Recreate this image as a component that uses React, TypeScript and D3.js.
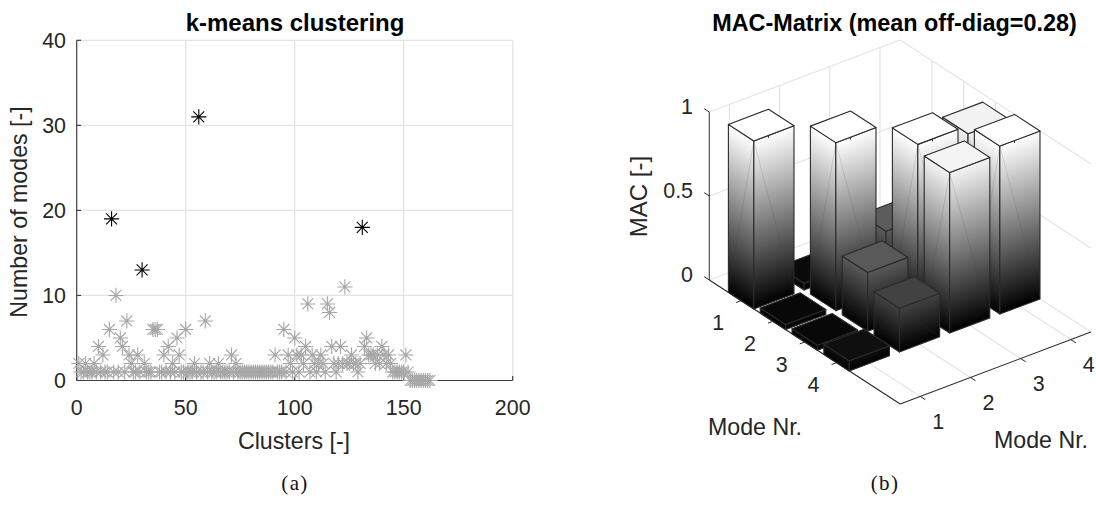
import React from "react";
import * as d3 from "d3";

// ---------- data: k-means clustering (index 1..162) ----------
const clusterSizes = [
  2,1,1,2,1,1,1,2,1,4, 1,3,1,1,6,19,1,10,1,5,
  4,1,7,3,2,1,1,3,1,13, 2,1,1,1,6,6,6,1,1,3,
  1,4,1,2,1,5,3,1,1,6, 1,1,1,2,1,31,1,1,7,1,
  2,1,1,1,2,1,1,1,1,1, 3,1,2,1,1,1,1,1,1,1,
  1,1,1,1,1,1,1,1,1,1, 3,1,1,1,6,1,3,2,1,5,
  3,1,3,2,4,9,1,3,2,1, 2,3,2,1,9,8,4,2,1,2,
  4,2,11,2,2,3,2,2,1,2, 18,4,5,3,3,3,2,3,2,4,
  3,2,3,2,1,1,1,1,1,1, 3,1,0,0,0,0,0,0,0,0,
  0,0,
];
const highlightedClusters = [16, 30, 56, 131];
const xTicks = [0, 50, 100, 150, 200];
const yTicks = [0, 10, 20, 30, 40];

// ---------- data: MAC matrix, rows are the right-hand axis, columns the left-hand axis ----------
const modeTicks = [1, 2, 3, 4];
const macTicks = [0, 0.5, 1];
const macRow1 = [1, 0.03, 0.03, 0.06];
const macRow2 = [0.04, 1, 0.35, 0.26];
const macRow3 = [0.1, 0.36, 1, 0.955];
const macRow4 = [0.03, 0.1, 0.95, 1];
const macMatrix = [macRow1, macRow2, macRow3, macRow4];

const FONT = "'Liberation Sans', Arial, sans-serif";
const TEXT = "#262626";
const GRID = "#e4e4e4";
const AXIS = "#404040";
const EDGE = "#2a2a2a";
const STAR_GRAY = "#a6a6a6";

const x = d3.scaleLinear().domain([0, 200]).range([76.7, 512.7]);
const y = d3.scaleLinear().domain([0, 40]).range([380.5, 40.3]);

function star(r: number) {
  const d = r * 0.72;
  return `M${-r},0L${r},0M0,${-r}L0,${r}M${-d},${-d}L${d},${d}M${-d},${d}L${d},${-d}`;
}

// ---------- 3D projection ----------
const uDomain = [0.6, 4.4];
const vDomain = [0, 6];
const uPx = d3.scaleLinear().domain(uDomain).range([0, 190.7]);
const uPy = d3.scaleLinear().domain(uDomain).range([0, -72]);
const vPx = d3.scaleLinear().domain(vDomain).range([0, 190.9]);
const vPy = d3.scaleLinear().domain(vDomain).range([0, 124]);
const zP = d3.scaleLinear().domain([0, 1]).range([0, -168]);
const ORIGIN = [709.3, 280];
type Pt = [number, number];
function P(u: number, v: number, z: number): Pt {
  return [ORIGIN[0] + uPx(u) + vPx(v), ORIGIN[1] + uPy(u) + vPy(v) + zP(z)];
}
const gray = (z: number) => d3.interpolateRgb("#000000", "#ffffff")(z);
const poly = (pts: Pt[]) => "M" + pts.map((p) => p.join(",")).join("L") + "Z";

function Line({ a, b, c, w }: { a: Pt; b: Pt; c: string; w: number }) {
  return <line x1={a[0]} y1={a[1]} x2={b[0]} y2={b[1]} stroke={c} strokeWidth={w} />;
}

function gradientEnd(base: Pt, along: Pt, h: number): Pt {
  const ex = along[0] - base[0];
  const ey = along[1] - base[1];
  const len = Math.hypot(ex, ey);
  const nx = ey / len;
  const ny = -ex / len;
  const proj = -h * ny;
  return [base[0] + nx * proj, base[1] + ny * proj];
}

const HALF = 0.4;
const bars = macMatrix
  .flatMap((row, i) => row.map((z, j) => ({ u: i + 1, v: j + 1, z })))
  .sort((a, b) => a.v - a.u - (b.v - b.u));

function Bar({ u, v, z }: { u: number; v: number; z: number }) {
  const u0 = u - HALF, u1 = u + HALF, v0 = v - HALF, v1 = v + HALF;
  const left0 = P(u0, v0, 0), front0 = P(u0, v1, 0), right0 = P(u1, v1, 0);
  const leftT = P(u0, v0, z), frontT = P(u0, v1, z), rightT = P(u1, v1, z), backT = P(u1, v0, z);
  const h = front0[1] - frontT[1];
  const gl = gradientEnd(left0, front0, h);
  const gr = gradientEnd(front0, right0, h);
  const idL = `gl-${u}-${v}`;
  const idR = `gr-${u}-${v}`;
  const tickAt = frontT[1] + ((backT[0] - frontT[0]) / (rightT[0] - frontT[0])) * (rightT[1] - frontT[1]);
  return (
    <g>
      <defs>
        <linearGradient id={idL} gradientUnits="userSpaceOnUse" x1={left0[0]} y1={left0[1]} x2={gl[0]} y2={gl[1]}>
          <stop offset="0" stopColor="#000" />
          <stop offset="1" stopColor={gray(z)} />
        </linearGradient>
        <linearGradient id={idR} gradientUnits="userSpaceOnUse" x1={front0[0]} y1={front0[1]} x2={gr[0]} y2={gr[1]}>
          <stop offset="0" stopColor="#000" />
          <stop offset="1" stopColor={gray(z)} />
        </linearGradient>
      </defs>
      <path d={poly([left0, front0, frontT, leftT])} fill={`url(#${idL})`} stroke={EDGE} strokeWidth={1.1} strokeLinejoin="round" />
      <path d={poly([front0, right0, rightT, frontT])} fill={`url(#${idR})`} stroke={EDGE} strokeWidth={1.1} strokeLinejoin="round" />
      <path d={poly([leftT, frontT, rightT, backT])} fill={gray(z)} stroke={EDGE} strokeWidth={1.1} strokeLinejoin="round" />
      {z > 0.2 && <Line a={frontT} b={left0} c="rgba(70,70,70,0.3)" w={0.5} />}
      {z > 0.2 && <Line a={frontT} b={right0} c="rgba(70,70,70,0.3)" w={0.5} />}
      {z > 0.99 && <Line a={[backT[0], tickAt]} b={[backT[0], tickAt + 2.4]} c={EDGE} w={1} />}
    </g>
  );
}

const tickStyle = { fontFamily: FONT, fontSize: 21.4, fill: TEXT } as const;
const labelStyle = { fontFamily: FONT, fontSize: 23.2, fill: TEXT } as const;
const titleStyle = { fontFamily: FONT, fontSize: 23.4, fontWeight: "bold", fill: "#000" } as const;
const captionStyle = { fontFamily: "'Liberation Serif', serif", fontSize: 21, letterSpacing: 1.4, fill: "#111" } as const;

export default function App() {
  const uMin = uDomain[0], uMax = uDomain[1], vMin = vDomain[0], vMax = vDomain[1];
  return (
    <svg width={1096} height={510} style={{ position: "absolute", left: 0, top: 0, background: "#fff" }}>
      {/* ---------- left panel ---------- */}
      <g stroke={GRID} strokeWidth={1.3}>
        {xTicks.slice(1).map((t) => (
          <line key={t} x1={x(t)} x2={x(t)} y1={y(0)} y2={y(40)} />
        ))}
        {yTicks.slice(1).map((t) => (
          <line key={t} x1={x(0)} x2={x(200)} y1={y(t)} y2={y(t)} />
        ))}
      </g>
      <g stroke={AXIS} strokeWidth={1.2}>
        <line x1={x(0)} x2={x(0)} y1={y(0)} y2={y(40)} />
        <line x1={x(0)} x2={x(200)} y1={y(0)} y2={y(0)} />
        {xTicks.map((t) => (
          <line key={t} x1={x(t)} x2={x(t)} y1={y(0)} y2={y(0) - 4.4} />
        ))}
        {yTicks.map((t) => (
          <line key={t} x1={x(0)} x2={x(0) + 4.4} y1={y(t)} y2={y(t)} />
        ))}
      </g>
      {clusterSizes.map((s, i) =>
        highlightedClusters.includes(i + 1) ? null : (
          <path key={i} d={star(7.6)} transform={`translate(${x(i + 1)},${y(s)})`} stroke={STAR_GRAY} strokeWidth={1.1} fill="none" />
        )
      )}
      {highlightedClusters.map((c) => (
        <path key={c} d={star(7.6)} transform={`translate(${x(c)},${y(clusterSizes[c - 1])})`} stroke="#000" strokeWidth={1.1} fill="none" />
      ))}
      {xTicks.map((t) => (
        <text key={t} x={x(t)} y={414.5} textAnchor="middle" {...tickStyle}>{t}</text>
      ))}
      {yTicks.map((t) => (
        <text key={t} x={66} y={y(t) + 7.5} textAnchor="end" {...tickStyle}>{t}</text>
      ))}
      <text x={294} y={449} textAnchor="middle" {...labelStyle}>Clusters [-]</text>
      <text transform="translate(27,212) rotate(-90)" textAnchor="middle" {...labelStyle}>Number of modes [-]</text>
      <text x={295} y={31} textAnchor="middle" {...titleStyle} fontSize={24}>k-means clustering</text>
      <text x={295} y={490} textAnchor="middle" {...captionStyle}>(a)</text>

      {/* ---------- right panel: walls ---------- */}
      <g>
        {modeTicks.map((t) => (
          <g key={t}>
            <Line a={P(t, vMin, 0)} b={P(t, vMax, 0)} c={GRID} w={1.2} />
            <Line a={P(uMin, t, 0)} b={P(uMax, t, 0)} c={GRID} w={1.2} />
            <Line a={P(t, vMin, 0)} b={P(t, vMin, 1)} c={GRID} w={1.2} />
            <Line a={P(uMax, t, 0)} b={P(uMax, t, 1)} c={GRID} w={1.2} />
          </g>
        ))}
        {macTicks.map((t) => (
          <g key={t}>
            <Line a={P(uMin, vMin, t)} b={P(uMax, vMin, t)} c={GRID} w={1.2} />
            <Line a={P(uMax, vMin, t)} b={P(uMax, vMax, t)} c={GRID} w={1.2} />
          </g>
        ))}
      </g>
      {/* axes */}
      <Line a={P(uMin, vMin, 0)} b={P(uMin, vMin, 1)} c={AXIS} w={1.1} />
      <Line a={P(uMin, vMin, 0)} b={P(uMin, vMax, 0)} c={EDGE} w={1.1} />
      <Line a={P(uMin, vMax, 0)} b={P(uMax, vMax, 0)} c={EDGE} w={1.1} />
      {macTicks.map((t) => (
        <Line key={t} a={P(uMin, vMin, t)} b={P(uMin, vMin - 0.16, t)} c={EDGE} w={1} />
      ))}
      {modeTicks.map((t) => (
        <g key={t}>
          <Line a={P(uMin, t, 0)} b={P(uMin - 0.1, t, 0)} c={EDGE} w={1} />
          <Line a={P(t, vMax, 0)} b={P(t, vMax + 0.16, 0)} c={EDGE} w={1} />
        </g>
      ))}
      {/* bars */}
      {bars.map((b) => (
        <Bar key={`${b.u}-${b.v}`} u={b.u} v={b.v} z={b.z} />
      ))}
      {/* labels */}
      {macTicks.map((t) => {
        const p = P(uMin, vMin, t);
        return (
          <text key={t} x={693} y={p[1] + 1.7} textAnchor="end" {...tickStyle}>{t}</text>
        );
      })}
      {modeTicks.map((t) => {
        const a = P(uMin, t, 0);
        const b = P(t, vMax, 0);
        return (
          <g key={t}>
            <text x={a[0] - 23} y={a[1] + 29.5} textAnchor="middle" {...tickStyle}>{t}</text>
            <text x={b[0] + 18} y={b[1] + 32.5} textAnchor="middle" {...tickStyle}>{t}</text>
          </g>
        );
      })}
      <text x={755} y={434.5} textAnchor="middle" {...labelStyle}>Mode Nr.</text>
      <text x={1041} y={447.5} textAnchor="middle" {...labelStyle}>Mode Nr.</text>
      <text transform="translate(647,196.5) rotate(-90)" textAnchor="middle" {...labelStyle} fontSize={24}>MAC [-]</text>
      <text x={894.5} y={31} textAnchor="middle" {...titleStyle}>MAC-Matrix (mean off-diag=0.28)</text>
      <text x={885} y={490} textAnchor="middle" {...captionStyle}>(b)</text>
    </svg>
  );
}
